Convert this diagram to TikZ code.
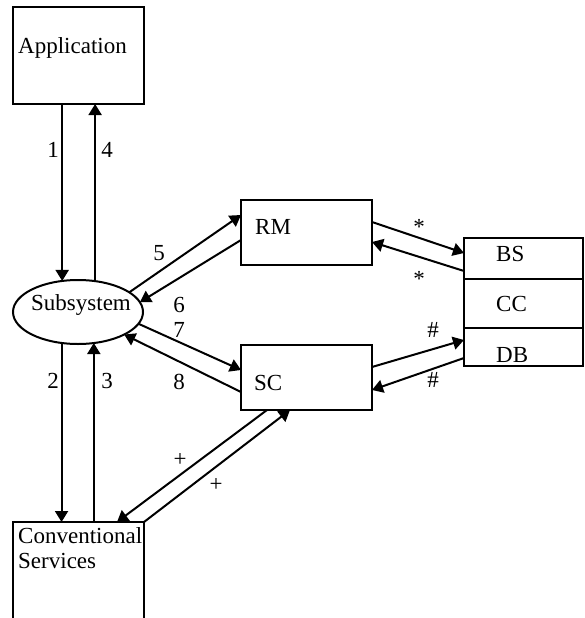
\documentclass[tikz,border=0pt]{standalone}
\usepackage{fontspec}
\setmainfont{Liberation Serif}
\usetikzlibrary{arrows.meta,shapes.geometric,calc}
\begin{document}
\begin{tikzpicture}[x=1pt,y=-1pt,
  every node/.style={font=\fontsize{23}{25}\selectfont},
  box/.style={draw, line width=2pt, rectangle, inner sep=0pt, outer sep=0pt},
  flow/.style={line width=2pt, -{Triangle[length=11pt,width=13pt]}},
  tag/.style={inner sep=0pt}
]
\useasboundingbox (0,0) rectangle (585,618);
\clip (0,0) rectangle (585,618);

% boxes
\node[box, minimum width=131pt, minimum height=97pt] (app) at (78.5,55.5) {};
\node[tag, anchor=base west] (apptext) at (18,53) {Application};

\node[draw, ellipse, line width=2pt, minimum width=130pt, minimum height=64pt,
      inner sep=0pt, outer sep=0pt] (sub) at (78,312) {};
\node[tag, anchor=base west] (subtext) at (31,310) {Subsystem};

\node[box, minimum width=131pt, minimum height=65pt] (rm) at (306.5,232.5) {};
\node[tag, anchor=base west] (rmtext) at (255,234) {RM};

\node[box, minimum width=131pt, minimum height=65pt] (sc) at (306.5,377.5) {};
\node[tag, anchor=base west] (sctext) at (254,390) {SC};

\node[box, minimum width=119pt, minimum height=41pt] (bs) at (523.5,258.5) {};
\node[box, minimum width=119pt, minimum height=49pt] (cc) at (523.5,303.5) {};
\node[box, minimum width=119pt, minimum height=38pt] (db) at (523.5,347) {};
\node[tag, anchor=base west] (bstext) at (496,261) {BS};
\node[tag, anchor=base west] (cctext) at (496,311) {CC};
\node[tag, anchor=base west] (dbtext) at (496,362) {DB};

\node[box, minimum width=131pt, minimum height=108pt] (cs) at (78.5,576) {};
\node[tag, anchor=base west] (cstext1) at (18,543) {Conventional};
\node[tag, anchor=base west] (cstext2) at (18,568) {Services};

% Application <-> Subsystem
\draw[flow] (sub.117.3 |- app.south) -- (sub.117.3);
\draw[flow] (sub.61.2) -- (sub.61.2 |- app.south);
\node[tag] (l1) at (53,150) {1};
\node[tag] (l4) at (107,150) {4};

% Subsystem <-> Conventional Services
\draw[flow] (sub.242.7) -- (sub.242.7 |- cs.north);
\draw[flow] (sub.297.3 |- cs.north) -- (sub.297.3);
\node[tag] (l2) at (53,381) {2};
\node[tag] (l3) at (107,381) {3};

% Subsystem <-> RM
\draw[flow] (sub.21) -- ($(rm.north west)+(0,15)$);
\draw[flow] ($(rm.north west)+(0,40)$) -- (sub.9);
\node[tag] (l5) at (159,253) {5};
\node[tag] (l6) at (179,305) {6};

% Subsystem <-> SC
\draw[flow] (sub.-11) -- ($(sc.north west)+(0,25)$);
\draw[flow] ($(sc.north west)+(0,47)$) -- (sub.-26);
\node[tag] (l7) at (179,330) {7};
\node[tag] (l8) at (179,382) {8};

% RM <-> BS
\draw[flow] ($(rm.north east)+(0,22)$) -- ($(bs.north west)+(0,15)$);
\draw[flow] ($(bs.north west)+(0,33)$) -- ($(rm.north east)+(0,42)$);
\node[tag] (s1) at (419,226.5) {*};
\node[tag] (s2) at (419,278.5) {*};

% SC <-> DB
\draw[flow] ($(sc.north east)+(0,22)$) -- ($(db.north west)+(0,12)$);
\draw[flow] ($(db.north west)+(0,30)$) -- ($(sc.north east)+(0,45)$);
\node[tag] (h1) at (433,330) {\#};
\node[tag] (h2) at (433,380) {\#};

% SC <-> Conventional Services
\draw[flow] ($(sc.south west)+(26,0)$) -- ($(cs.north west)+(104,0)$);
\draw[flow] (cs.north east) -- ($(sc.south west)+(49,0)$);
\node[tag] (p1) at (180,460) {+};
\node[tag] (p2) at (216,485) {+};
\end{tikzpicture}
\end{document}
